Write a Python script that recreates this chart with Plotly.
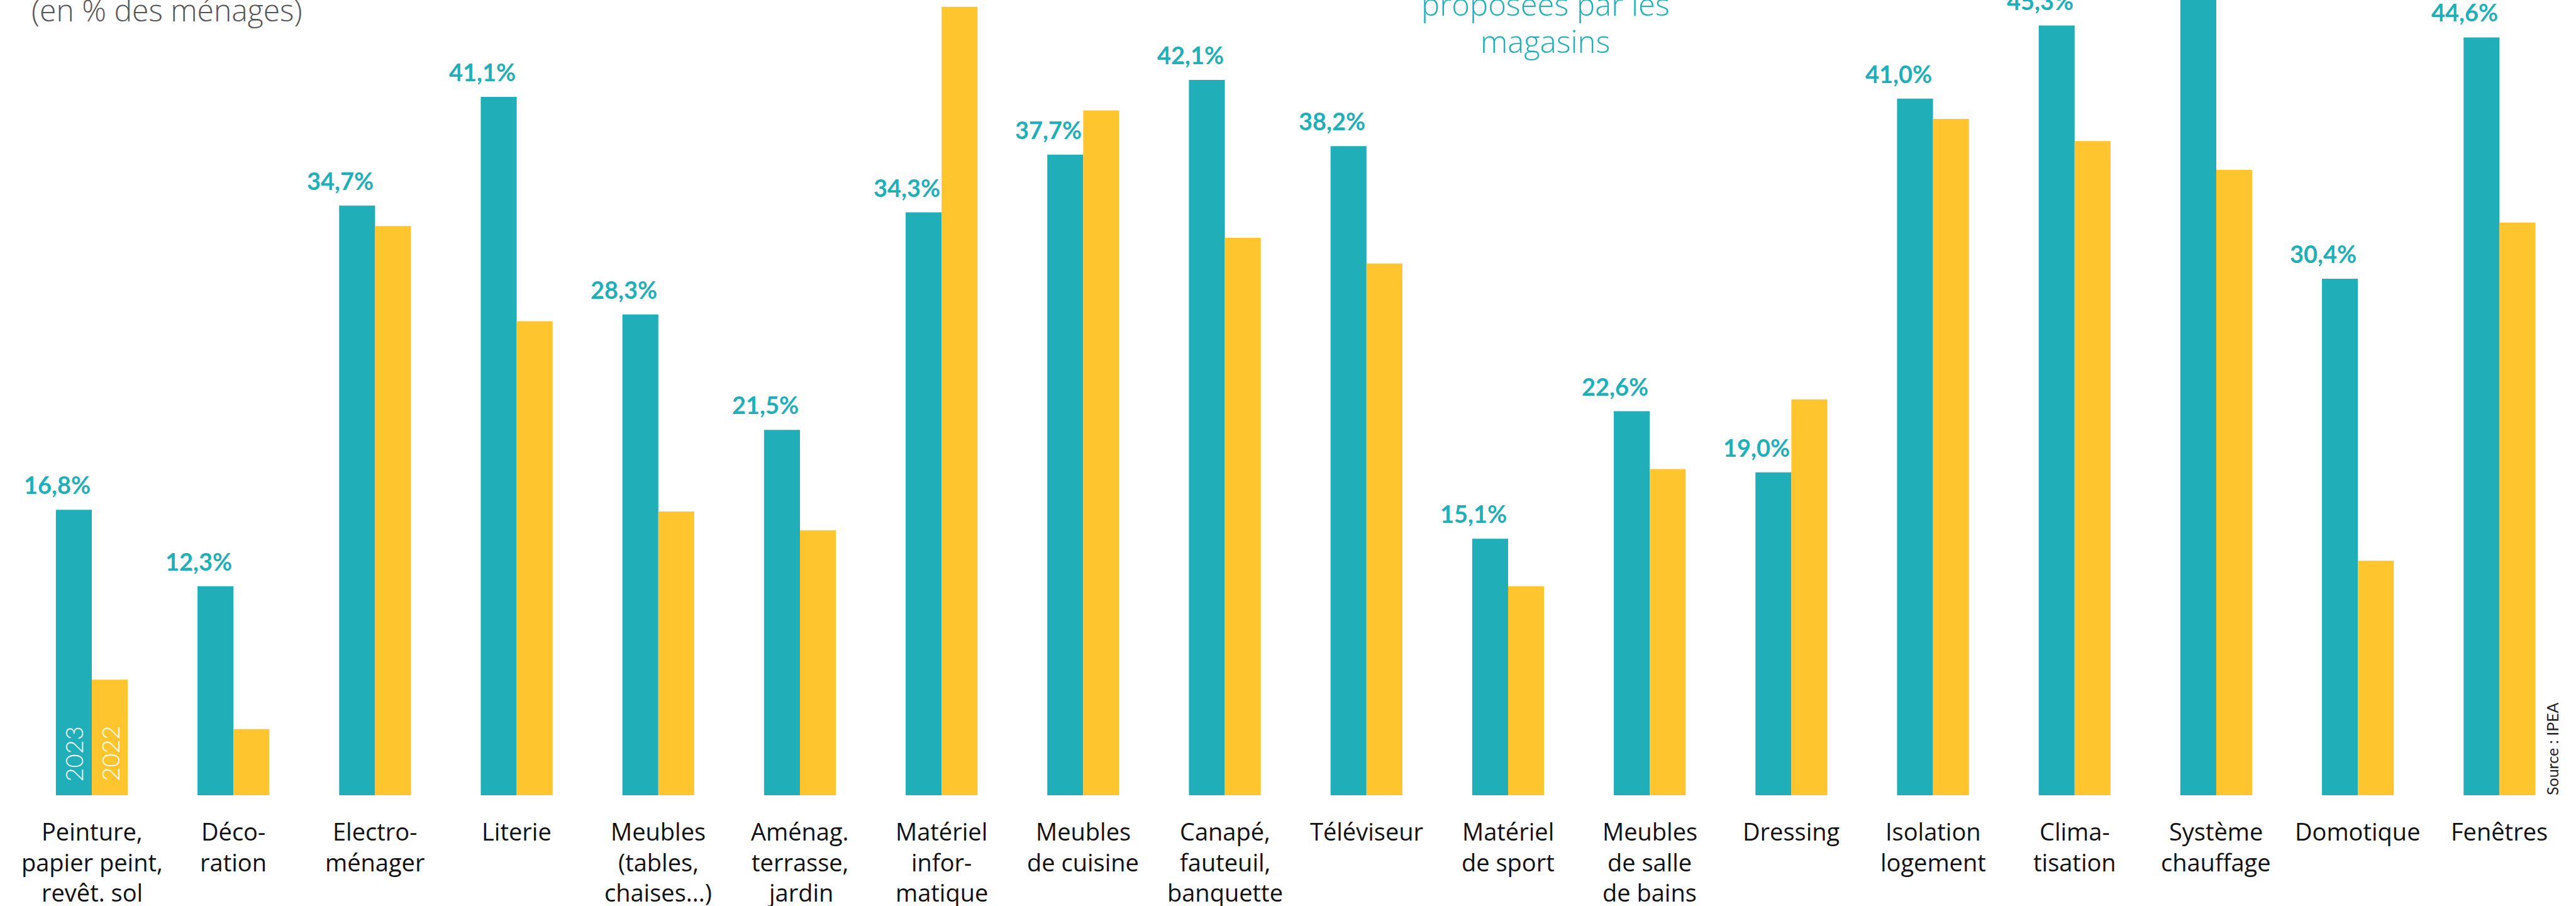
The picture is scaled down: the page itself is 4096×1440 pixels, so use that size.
import plotly.graph_objects as go

# Categories (line breaks as printed under each pair of bars)
categories = [
    "Peinture,\npapier peint,\nrevêt. sol",
    "Déco-\nration",
    "Electro-\nménager",
    "Literie",
    "Meubles\n(tables,\nchaises...)",
    "Aménag.\nterrasse,\njardin",
    "Matériel\ninfor-\nmatique",
    "Meubles\nde cuisine",
    "Canapé,\nfauteuil,\nbanquette",
    "Téléviseur",
    "Matériel\nde sport",
    "Meubles\nde salle\nde bains",
    "Dressing",
    "Isolation\nlogement",
    "Clima-\ntisation",
    "Système\nchauffage",
    "Domotique",
    "Fenêtres",
]

# Share of households (%)
share_2023 = [16.8, 12.3, 34.7, 41.1, 28.3, 21.5, 34.3, 37.7, 42.1, 38.2,
              15.1, 22.6, 19.0, 41.0, 45.3, 48.4, 30.4, 44.6]
share_2022 = [6.8, 3.9, 33.5, 27.9, 16.7, 15.6, 46.4, 40.3, 32.8, 31.3,
              12.3, 19.2, 23.3, 39.8, 38.5, 36.8, 13.8, 33.7]

series_names = ["2023", "2022"]
subtitle = "(en % des ménages)"
note_lines = ["proposées par les", "magasins"]
source_text = "Source : IPEA"

TEAL = "#20AFB8"
YELLOW = "#FEC52F"
W, H = 4096, 1440
PLOT_BOTTOM = 176          # px below the baseline
Y_MAX = 46.8               # top of the visible value range
BARGAP = 0.4926
BAR_W = (1 - BARGAP) / 2   # width of one bar in category units

# font descent ratios, used to place text baselines
LATO_DESC = 0.213
OPEN_DESC = 0.293

x = list(range(len(categories)))

fig = go.Figure()
fig.add_bar(x=x, y=share_2023, name=series_names[0], marker_color=TEAL,
            marker_line_width=0, hoverinfo="skip")
fig.add_bar(x=x, y=share_2022, name=series_names[1], marker_color=YELLOW,
            marker_line_width=0, hoverinfo="skip")

ann = []

# value labels, right-aligned on the 2023 bar's right edge
for i, v in enumerate(share_2023):
    ann.append(dict(
        x=i, y=v, xref="x", yref="y", xanchor="right", yanchor="bottom",
        yshift=15, showarrow=False,
        text=f"{v:.1f}".replace(".", ",") + "%",
        font=dict(family="Lato", size=38, color=TEAL, weight=700),
    ))

# category labels, one annotation per printed line
CAT_SIZE = 38
LINE1 = 73          # baseline of the first line below the bars
LINE_STEP = 48.6
for i, label in enumerate(categories):
    for j, line in enumerate(label.split("\n")):
        ann.append(dict(
            x=i, y=0, xref="x", yref="paper", xanchor="center", yanchor="bottom",
            yshift=-(LINE1 + LINE_STEP * j + OPEN_DESC * CAT_SIZE + 1),
            showarrow=False, text=line,
            font=dict(family="Open Sans", size=CAT_SIZE, color="#111111"),
        ))

# series names written inside the first pair of bars
for k, name in enumerate(series_names):
    ann.append(dict(
        x=(k - 0.5) * BAR_W, y=0, xref="x", yref="paper",
        xanchor="center", yanchor="bottom", yshift=20, textangle=-90,
        showarrow=False, text=name,
        font=dict(family="Lato", size=38, color="white", weight=300),
    ))

# subtitle at top left
SUB_SIZE = 48
ann.append(dict(
    x=48 / W, y=1, xref="paper", yref="paper", xanchor="left", yanchor="bottom",
    yshift=-(35 + OPEN_DESC * SUB_SIZE + 1), showarrow=False, text=subtitle,
    font=dict(family="Open Sans", size=SUB_SIZE, color="#555555", weight=300),
))

# teal note near the top
NOTE_SIZE = 49
note_baselines = [26, 85]
for line, base in zip(note_lines, note_baselines):
    ann.append(dict(
        x=2457 / W, y=1, xref="paper", yref="paper", xanchor="center",
        yanchor="bottom", yshift=-(base + OPEN_DESC * NOTE_SIZE + 1),
        showarrow=False, text=line,
        font=dict(family="Open Sans", size=NOTE_SIZE, color=TEAL, weight=300),
    ))

# source, written vertically at the right edge
ann.append(dict(
    x=4058 / W, y=0, xref="paper", yref="paper", xanchor="center",
    yanchor="bottom", yshift=-2, textangle=-90, showarrow=False,
    text=source_text, font=dict(family="Lato", size=25, color="#222222"),
))

fig.update_layout(
    width=W, height=H,
    margin=dict(l=0, r=0, t=0, b=PLOT_BOTTOM),
    paper_bgcolor="white", plot_bgcolor="white",
    barmode="group", bargap=BARGAP, bargroupgap=0,
    showlegend=False,
    xaxis=dict(range=[-0.6483, 17.540], showgrid=False, zeroline=False,
               showticklabels=False, showline=False, fixedrange=True),
    yaxis=dict(range=[0, Y_MAX], showgrid=False, zeroline=False,
               showticklabels=False, showline=False, fixedrange=True),
    annotations=ann,
)

fig.write_html("out.html", config={"displayModeBar": False})
